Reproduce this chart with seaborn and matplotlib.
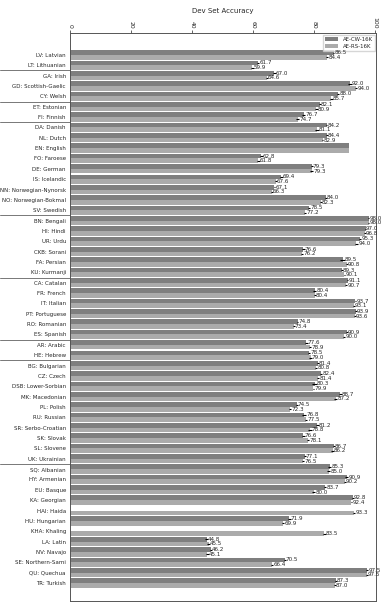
import numpy as np
import pandas as pd
import matplotlib
matplotlib.use("Agg")
import matplotlib.pyplot as plt
import matplotlib.transforms as mtransforms
import seaborn as sns

languages = [
    "LV: Latvian", "LT: Lithuanian", "GA: Irish", "GD: Scottish-Gaelic", "CY: Welsh",
    "ET: Estonian", "FI: Finnish", "DA: Danish", "NL: Dutch", "EN: English",
    "FO: Faroese", "DE: German", "IS: Icelandic", "NN: Norwegian-Nynorsk",
    "NO: Norwegian-Bokmal", "SV: Swedish", "BN: Bengali", "HI: Hindi", "UR: Urdu",
    "CKB: Sorani", "FA: Persian", "KU: Kurmanji", "CA: Catalan", "FR: French",
    "IT: Italian", "PT: Portuguese", "RO: Romanian", "ES: Spanish", "AR: Arabic",
    "HE: Hebrew", "BG: Bulgarian", "CZ: Czech", "DSB: Lower-Sorbian", "MK: Macedonian",
    "PL: Polish", "RU: Russian", "SR: Serbo-Croatian", "SK: Slovak", "SL: Slovene",
    "UK: Ukrainian", "SQ: Albanian", "HY: Armenian", "EU: Basque", "KA: Georgian",
    "HAI: Haida", "HU: Hungarian", "KHA: Khaling", "LA: Latin", "NV: Navajo",
    "SE: Northern-Sami", "QU: Quechua", "TR: Turkish",
]

nan = np.nan
acc_cw = [
    86.5, 61.7, 67.0, 92.0, 88.0,
    82.1, 76.7, 84.2, 84.4, 91.5,
    62.8, 79.3, 69.4, 67.1, 84.0, 78.5,
    98.0, 97.0, 95.3, 76.6, 89.5, 89.3,
    91.1, 80.4, 93.7, 93.9, 74.8, 90.9,
    77.6, 78.5,
    81.4, 82.4, 80.3, 88.7, 74.5, 76.8, 81.2, 76.6, 86.7, 77.1,
    85.3, 90.9, 83.7, 92.8, nan, 71.9, nan, 44.8, 46.2, 70.5, 97.5, 87.3,
]
acc_rs = [
    84.4, 59.9, 64.6, 94.0, 85.7,
    80.9, 74.7, 81.1, 82.9, 91.5,
    61.8, 79.3, 67.6, 66.3, 82.3, 77.2,
    98.0, 96.8, 94.0, 76.2, 90.8, 90.1,
    90.7, 80.4, 93.1, 93.6, 73.4, 90.0,
    78.9, 79.0,
    80.8, 81.4, 79.9, 87.2, 72.3, 77.5, 78.8, 78.1, 86.2, 76.5,
    85.0, 90.2, 80.0, 92.4, 93.3, 69.9, 83.5, 45.5, 45.1, 66.4, 97.5, 87.0,
]
err_cw = [
    0.3, 0.4, 0.5, 0.6, 0.4,
    0.3, 0.6, 0.3, 0.3, 0.0,
    0.5, 0.3, 0.4, 0.3, 0.4, 0.3,
    0.2, 0.2, 0.3, 0.5, 0.8, 0.2,
    0.3, 0.5, 0.3, 0.3, 0.2, 0.3,
    0.4, 0.4,
    0.3, 0.4, 0.8, 0.5, 0.3, 0.8, 0.4, 0.5, 0.3, 0.3,
    0.5, 0.5, 0.4, 0.3, nan, 0.5, nan, 0.4, 0.4, 0.3, 0.4, 0.3,
]
err_rs = [
    0.4, 0.5, 0.3, 0.3, 0.5,
    0.4, 0.5, 0.6, 0.3, 0.0,
    0.5, 0.6, 0.3, 0.3, 0.4, 0.3,
    0.2, 0.2, 0.6, 0.3, 0.3, 0.3,
    0.3, 0.3, 0.3, 0.3, 0.3, 0.4,
    0.3, 0.4,
    0.4, 0.4, 0.3, 0.5, 0.4, 0.4, 0.6, 0.4, 0.4, 0.4,
    0.5, 0.3, 0.5, 0.3, 0.4, 0.4, 0.5, 0.4, 0.4, 0.3, 0.3, 0.3,
]
models = ["AE-CW-16K", "AE-RS-16K"]
no_label = ["EN: English"]
# family separators drawn after these rows
group_ends = [1, 4, 6, 15, 21, 27, 29, 39]

df = pd.DataFrame({
    "lang": languages * 2,
    "model": [models[0]] * len(languages) + [models[1]] * len(languages),
    "acc": acc_cw + acc_rs,
})
errs = {models[0]: err_cw, models[1]: err_rs}
vals = {models[0]: acc_cw, models[1]: acc_rs}

sns.set_style("white")
plt.rcParams["font.family"] = ["DejaVu Sans"]

fig = plt.figure(figsize=(3.87, 6.03), dpi=100)
ax = fig.add_axes([0.181, 0.004, 0.791, 0.941])

sns.barplot(data=df.dropna(), y="lang", x="acc", hue="model", order=languages,
            hue_order=models, orient="h", palette=["#7f7f7f", "#ababab"],
            saturation=1, width=0.9, errorbar=None, linewidth=0, ax=ax)

for model, cont in zip(models, ax.containers):
    for bar in cont:
        yc = bar.get_y() + bar.get_height() / 2
        i = int(round(yc))
        lang = languages[i]
        v = vals[model][i]
        e = errs[model][i]
        if np.isnan(v) or lang in no_label:
            continue
        ax.errorbar(v, yc, xerr=e, fmt="none", ecolor="black", elinewidth=0.8, capsize=0)
        ax.text(v + e, yc, f"{v:.1f}", fontsize=4.1, va="center", ha="left")

ax.set_xlim(0, 100.5)
ax.set_ylim(52.7, -2.1)
ax.xaxis.tick_top()
ax.xaxis.set_label_position("top")
ax.set_xticks([0, 20, 40, 60, 80, 100])
ax.tick_params(axis="x", labelsize=4.4, rotation=270, length=2, width=0.5, pad=1.5)
ax.tick_params(axis="y", labelsize=3.95, length=2, width=0.5, pad=1)
ax.set_xlabel("Dev Set Accuracy", fontsize=5.0, labelpad=3)
ax.set_ylabel("")
for s in ax.spines.values():
    s.set_color("#555555")
    s.set_linewidth(0.7)

trans = mtransforms.blended_transform_factory(ax.transAxes, ax.transData)
for g in group_ends:
    ax.plot([-0.23, 0], [g + 0.5, g + 0.5], transform=trans, clip_on=False,
            color="#777777", lw=0.7)

leg = ax.legend(loc="upper right", fontsize=3.9, frameon=True, edgecolor="#cccccc",
                handlelength=2.4, handleheight=0.8, borderpad=0.4, labelspacing=0.35,
                fancybox=False, borderaxespad=0.25)
leg.set_zorder(1)

fig.savefig("out.png", dpi=100)
